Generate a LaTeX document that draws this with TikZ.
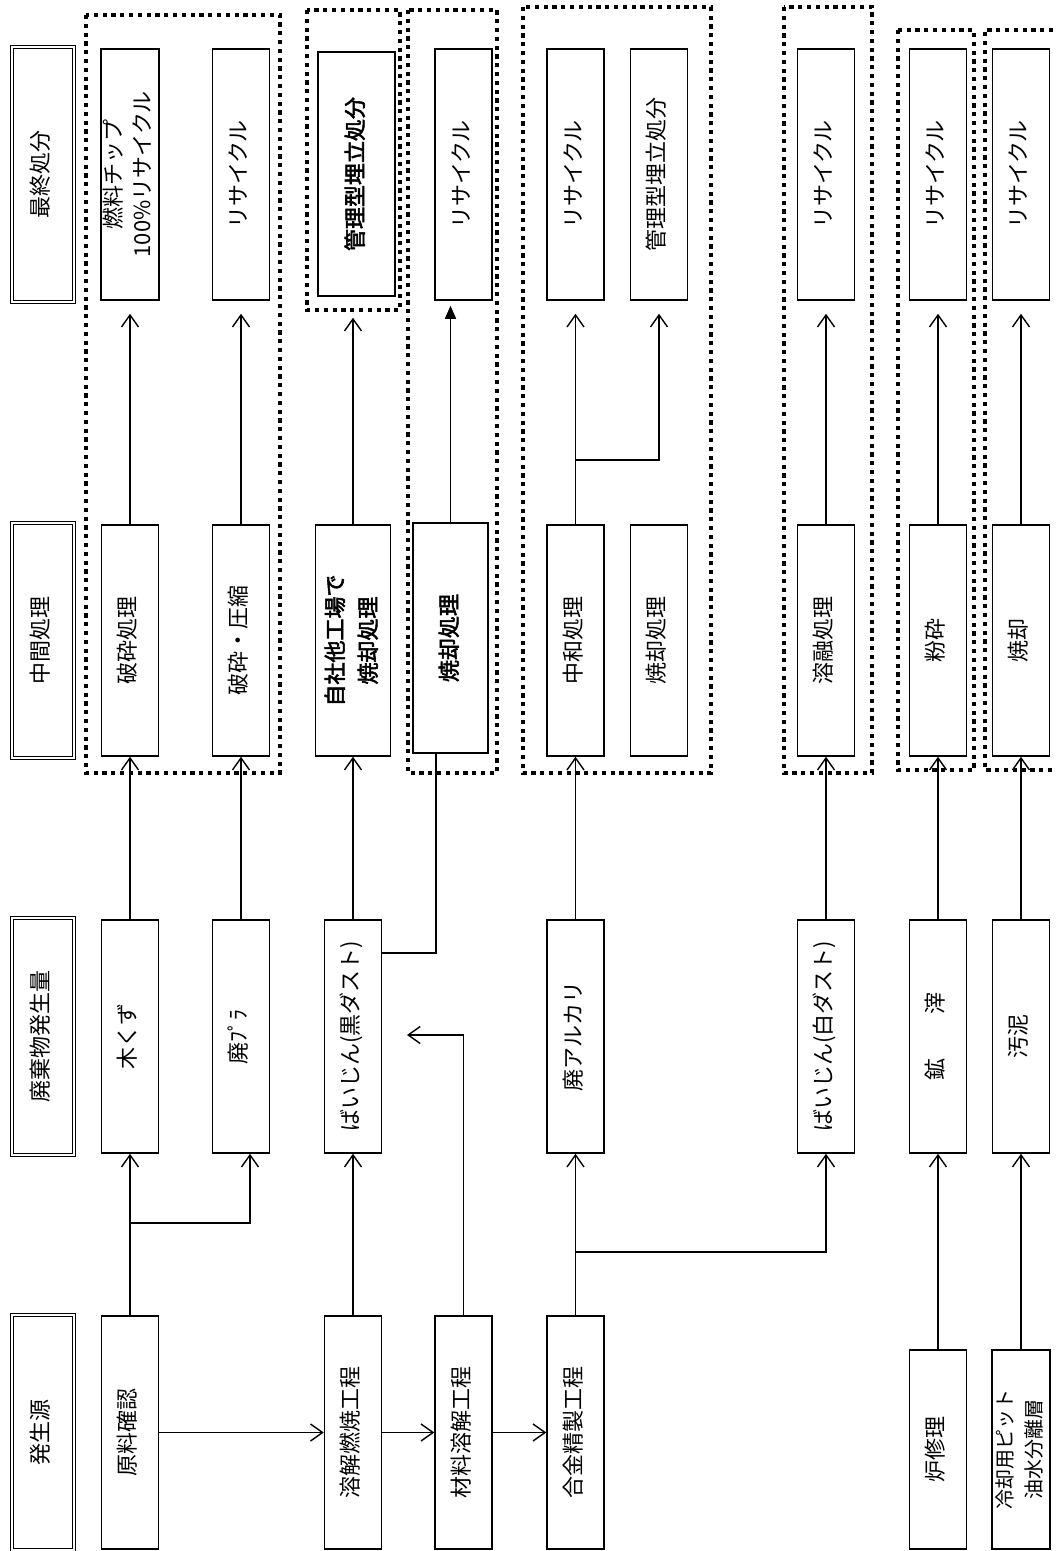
\documentclass[tikz,border=0pt]{standalone}
\usepackage{fontspec}
\setmainfont{Noto Sans CJK JP}
\newfontfamily\jpbold{Noto Sans CJK JP}[FakeBold=2.5]
\usetikzlibrary{arrows.meta,calc}
\newcommand{\vt}[1]{\rotatebox{90}{\begin{tabular}{@{}c@{}}#1\end{tabular}}}
\tikzset{
  box/.style={draw, line width=1.5pt, inner sep=0pt, fill=white, minimum width=57pt, minimum height=231pt, font=\fontsize{22}{29}\selectfont},
  bbox/.style={box, font=\jpbold\fontsize{22}{33}\selectfont},
  hdr/.style={draw, double, double distance=2.2pt, line width=1.3pt, inner sep=0pt, fill=white, minimum width=62pt, font=\fontsize{22}{29}\selectfont},
  conn/.style={line width=1.4pt},
  arr/.style={conn, -{Straight Barb[length=12pt,width=17pt,line width=1.4pt]}},
  farr/.style={conn, -{Triangle[length=13pt,width=11pt]}},
  grp/.style={line width=4pt, dash pattern=on 4.2pt off 4.6pt},
}
\begin{document}
\begin{tikzpicture}[x=1pt,y=-1pt]
\useasboundingbox[fill=white] (0,0) rectangle (1056,1551);

% dotted groups
\draw[grp] (86,15) rectangle (280,773);
\draw[grp] (307,10) rectangle (400,310);
\draw[grp] (408,10) rectangle (497,773);
\draw[grp] (523,7) rectangle (711,773);
\draw[grp] (784,7) rectangle (872,773);
\draw[grp] (898,30) rectangle (974,770);
\draw[grp] (1062,30) -- (985,30) -- (985,770) -- (1062,770);

% headers
\node[hdr, minimum height=255pt] (h1) at (43,174.5) {\vt{最終処分}};
\node[hdr, minimum height=235pt] (h2) at (43,640.5) {\vt{中間処理}};
\node[hdr, minimum height=237pt] (h3) at (43,1036.5) {\vt{廃棄物発生量}};
\node[hdr, minimum height=235pt] (h4) at (43,1432.5) {\vt{発生源}};

% row A: final disposal
\node[box, minimum height=251pt] (a1) at (130,174.5) {\vt{燃料チップ\\100\%リサイクル}};
\node[box, minimum height=251pt] (a2) at (241,174.5) {\vt{リサイクル}};
\node[bbox, minimum width=77pt, minimum height=244pt] (a3) at (356.5,174) {\vt{管理型埋立処分}};
\node[box, minimum height=251pt] (a4) at (463.5,174.5) {\vt{リサイクル}};
\node[box, minimum height=251pt] (a5) at (575.5,174.5) {\vt{リサイクル}};
\node[box, minimum height=251pt] (a6) at (659,174.5) {\vt{管理型埋立処分}};
\node[box, minimum height=251pt] (a7) at (826,174.5) {\vt{リサイクル}};
\node[box, minimum height=251pt] (a8) at (938,174.5) {\vt{リサイクル}};
\node[box, minimum height=251pt] (a9) at (1021,174.5) {\vt{リサイクル}};

% row B: intermediate treatment
\node[box] (b1) at (130,640.5) {\vt{破砕処理}};
\node[box] (b2) at (241,640.5) {\vt{破砕・圧縮}};
\node[bbox, minimum width=75pt] (b3) at (353,640.5) {\vt{自社他工場で\\焼却処理}};
\node[bbox, minimum width=75pt, minimum height=230pt] (b4) at (450.5,638) {\vt{焼却処理}};
\node[box] (b5) at (575.5,640.5) {\vt{中和処理}};
\node[box] (b6) at (659,640.5) {\vt{焼却処理}};
\node[box] (b7) at (826,640.5) {\vt{溶融処理}};
\node[box] (b8) at (938,640.5) {\vt{粉砕}};
\node[box] (b9) at (1021,640.5) {\vt{焼却}};

% row C: waste generated
\node[box, minimum height=233pt] (c1) at (130,1036.5) {\vt{木くず}};
\node[box, minimum height=233pt] (c2) at (241,1036.5) {\vt{廃ﾌﾟﾗ}};
\node[box, minimum height=233pt] (c3) at (353,1036.5) {\vt{ばいじん(黒ダスト)}};
\node[box, minimum height=233pt] (c5) at (575.5,1036.5) {\vt{廃アルカリ}};
\node[box, minimum height=233pt] (c7) at (826,1036.5) {\vt{ばいじん(白ダスト)}};
\node[box, minimum height=233pt] (c8) at (938,1036.5) {\vt{鉱\hspace{2em}滓}};
\node[box, minimum height=233pt] (c9) at (1021,1036.5) {\vt{汚泥}};

% row D: source
\node[box, minimum height=233pt] (d1) at (130,1432.5) {\vt{原料確認}};
\node[box, minimum height=233pt] (d3) at (353,1432.5) {\vt{溶解燃焼工程}};
\node[box, minimum height=233pt] (d4) at (463.5,1432.5) {\vt{材料溶解工程}};
\node[box, minimum height=233pt] (d5) at (575.5,1432.5) {\vt{合金精製工程}};
\node[box, minimum height=199pt] (d8) at (938,1449.5) {\vt{炉修理}};
\node[box, minimum height=199pt, font=\fontsize{20}{29}\selectfont] (d9) at (1021,1449.5) {\vt{冷却用ピット\\油水分離層}};

% row D flow
\draw[arr] (d1) -- (d3);
\draw[arr] (d3) -- (d4);
\draw[arr] (d4) -- (d5);

% D -> C
\coordinate (j1) at (130,1223);
\coordinate (kin) at (407,1035);
\coordinate (j2) at (575.5,1252);
\draw[arr] (d1.north) -- (c1.south);
\draw[arr] (j1) -| ([xshift=9pt]c2.south);
\draw[arr] (d3.north) -- (c3.south);
\draw[arr] (d4.north) |- (kin);
\draw[arr] (d5.north) -- (c5.south);
\draw[arr] (j2) -| (c7.south);
\draw[arr] (d8.north) -- (c8.south);
\draw[arr] (d9.north) -- (c9.south);

% C -> B
\draw[arr] (c1.north) -- (b1.south);
\draw[arr] (c2.north) -- (b2.south);
\draw[arr] (c3.north) -- (b3.south);
\draw[conn] ([yshift=83.5pt]c3.east) -| ([xshift=-14.5pt]b4.south);
\draw[arr] (c5.north) -- (b5.south);
\draw[arr] (c7.north) -- (b7.south);
\draw[arr] (c8.north) -- (b8.south);
\draw[arr] (c9.north) -- (b9.south);

% B -> A
\coordinate (j3) at (575.5,460);
\draw[arr, shorten >=13pt] (b1.north) -- (a1.south);
\draw[arr, shorten >=13pt] (b2.north) -- (a2.south);
\draw[arr, shorten >=21pt] (b3.north) -- (b3.north |- a3.south);
\draw[farr, shorten >=5pt] (b4.north) -- (b4.north |- a4.south);
\draw[arr, shorten >=13pt] (b5.north) -- (a5.south);
\draw[arr, shorten >=13pt] (j3) -| (a6.south);
\draw[arr, shorten >=13pt] (b7.north) -- (a7.south);
\draw[arr, shorten >=13pt] (b8.north) -- (a8.south);
\draw[arr, shorten >=13pt] (b9.north) -- (a9.south);
\end{tikzpicture}
\end{document}
